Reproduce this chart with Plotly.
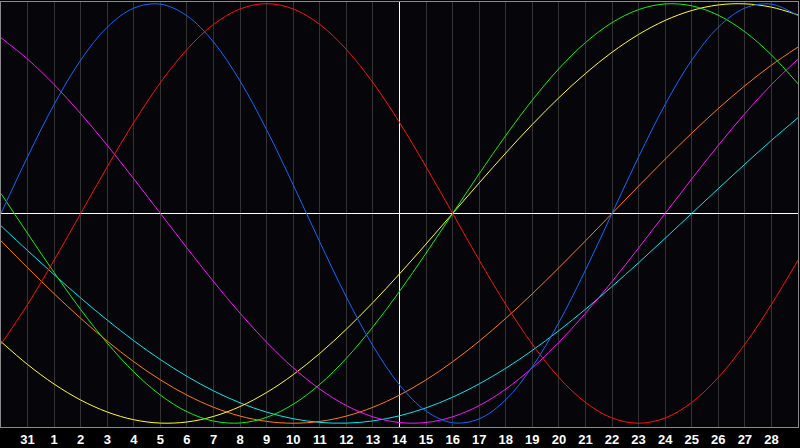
import plotly.graph_objects as go

# day index 0..30 across the chart, labels only on the inner days
day_index = list(range(31))
tick_pos = list(range(1, 30))
tick_labels = ["31"] + [str(d) for d in range(1, 29)]
today_pos = 15

# curve values (-1 .. 1)
physical = [0.0, 0.2698, 0.5196, 0.7308, 0.8879, 0.9791, 0.9977, 0.9423, 0.8170, 0.6311,
            0.3984, 0.1362, -0.1362, -0.3984, -0.6311, -0.8170, -0.9423, -0.9977, -0.9791, -0.8879,
            -0.7308, -0.5196, -0.2698, 0.0, 0.2698, 0.5196, 0.7308, 0.8879, 0.9791, 0.9977, 0.9423]
emotional = [-0.6235, -0.4339, -0.2225, 0.0, 0.2225, 0.4339, 0.6235, 0.7818, 0.9010, 0.9749,
             1.0, 0.9749, 0.9010, 0.7818, 0.6235, 0.4339, 0.2225, 0.0, -0.2225, -0.4339,
             -0.6235, -0.7818, -0.9010, -0.9749, -1.0, -0.9749, -0.9010, -0.7818, -0.6235, -0.4339, -0.2225]
intellectual = [0.0951, -0.0951, -0.2817, -0.4582, -0.6182, -0.7557, -0.8660, -0.9450, -0.9898, -0.9989,
                -0.9718, -0.9096, -0.8146, -0.6901, -0.5406, -0.3717, -0.1893, 0.0, 0.1893, 0.3717,
                0.5406, 0.6901, 0.8146, 0.9096, 0.9718, 0.9989, 0.9898, 0.9450, 0.8660, 0.7557, 0.6182]
intuitive = [0.8372, 0.7357, 0.6142, 0.4759, 0.3247, 0.1646, 0.0, -0.1646, -0.3247, -0.4759,
             -0.6142, -0.7357, -0.8372, -0.9158, -0.9694, -0.9966, -0.9966, -0.9694, -0.9158, -0.8372,
             -0.7357, -0.6142, -0.4759, -0.3247, -0.1646, 0.0, 0.1646, 0.3247, 0.4759, 0.6142, 0.7357]
aesthetic = [-0.6112, -0.7200, -0.8134, -0.8894, -0.9465, -0.9834, -0.9993, -0.9940, -0.9675, -0.9203,
             -0.8533, -0.7685, -0.6671, -0.5517, -0.4245, -0.2881, -0.1456, 0.0, 0.1456, 0.2881,
             0.4245, 0.5517, 0.6671, 0.7685, 0.8533, 0.9203, 0.9675, 0.9940, 0.9993, 0.9834, 0.9465]
awareness = [-0.1305, -0.2588, -0.3827, -0.5, -0.6088, -0.7071, -0.7934, -0.8660, -0.9239, -0.9659,
             -0.9914, -1.0, -0.9914, -0.9659, -0.9239, -0.8660, -0.7934, -0.7071, -0.6088, -0.5,
             -0.3827, -0.2588, -0.1305, 0.0, 0.1305, 0.2588, 0.3827, 0.5, 0.6088, 0.7071, 0.7934]
spiritual = [-0.0592, -0.1769, -0.2920, -0.4031, -0.5085, -0.6068, -0.6966, -0.7766, -0.8457, -0.9028,
             -0.9473, -0.9786, -0.9960, -0.9996, -0.9890, -0.9646, -0.9267, -0.8758, -0.8125, -0.7380,
             -0.6528, -0.5585, -0.4566, -0.3482, -0.2349, -0.1183, 0.0, 0.1183, 0.2349, 0.3482, 0.4566]

series = [
    ("Spiritual", spiritual, "#00e8f0"),
    ("Awareness", awareness, "#ff7c10"),
    ("Aesthetic", aesthetic, "#ffff20"),
    ("Intuitive", intuitive, "#ff10ff"),
    ("Intellectual", intellectual, "#10f010"),
    ("Emotional", emotional, "#ff1010"),
    ("Physical", physical, "#1068ff"),
]

fig = go.Figure()

for name, vals, col in series:
    fig.add_trace(go.Scatter(x=day_index, y=vals, mode="lines", name=name,
                             line=dict(color=col, width=1, shape="spline", smoothing=1.0),
                             hoverinfo="skip"))

# day grid drawn by hand so the today line is not covered by a grid line
for t in tick_pos:
    if t == today_pos:
        continue
    fig.add_shape(type="line", xref="x", yref="paper", x0=t, x1=t, y0=0, y1=1,
                  line=dict(color="#333333", width=1), layer="below")

# today marker and the zero line, under the curves
fig.add_shape(type="line", xref="x", yref="paper", x0=today_pos, x1=today_pos, y0=0, y1=1,
              line=dict(color="#ffffff", width=1), layer="below")
fig.add_shape(type="line", xref="paper", yref="y", x0=0, x1=1, y0=0, y1=0,
              line=dict(color="#ffffff", width=1), layer="below")

fig.update_layout(
    width=800,
    height=448,
    margin=dict(l=1, r=1, t=1, b=20),
    paper_bgcolor="#000000",
    plot_bgcolor="#060509",
    showlegend=False,
    xaxis=dict(range=[0, 30], tickvals=tick_pos, ticktext=tick_labels,
               showgrid=False, zeroline=False,
               showline=True, linecolor="#8a8a8a", linewidth=1, mirror=True,
               ticks="", fixedrange=True,
               tickfont=dict(family="Liberation Sans", size=13, color="#ffffff", weight="bold")),
    yaxis=dict(range=[-1.018, 1.008], showgrid=False, zeroline=False,
               showticklabels=False, ticks="",
               showline=True, linecolor="#8a8a8a", linewidth=1, mirror=True, fixedrange=True),
)

# no default page margin, and hard pixel edges for the straight lines
js = ("document.body.style.margin='0px';"
      "document.querySelectorAll('.shapelayer path').forEach(function(p){p.style.shapeRendering='crispEdges';});")
fig.write_html("out.html", config={"displayModeBar": False}, post_script=js)
